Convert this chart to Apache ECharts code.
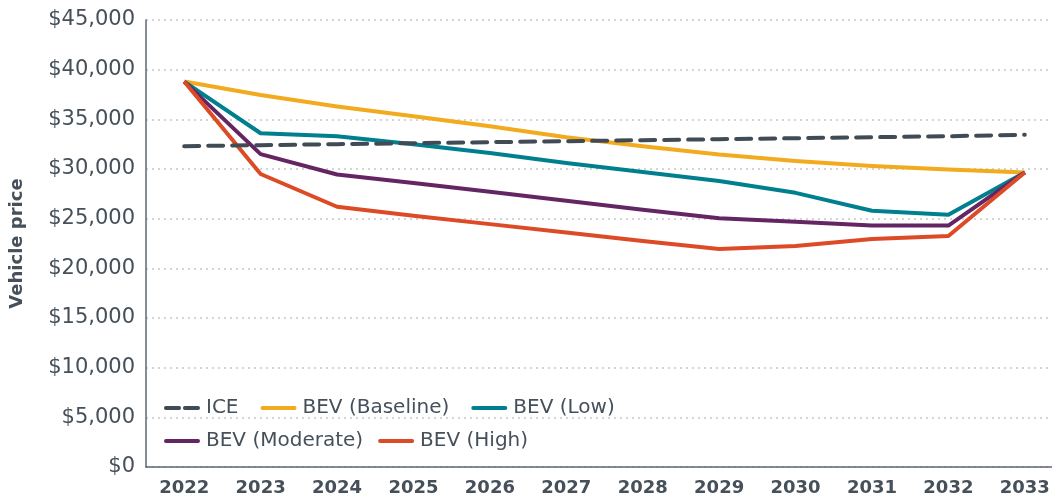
<!DOCTYPE html>
<html>
<head>
<meta charset="utf-8">
<script src="https://cdn.jsdelivr.net/npm/echarts@6/dist/echarts.min.js"></script>
<style>
  html, body { margin: 0; padding: 0; background: #fff; }
  #chart { width: 1052px; height: 498px; }
</style>
</head>
<body>
<div id="chart"></div>
<script>
// years on the x axis
var years = ['2022', '2023', '2024', '2025', '2026', '2027', '2028', '2029', '2030', '2031', '2032', '2033'];
// vehicle price by scenario (USD)
var ice = [32300, 32400, 32500, 32600, 32700, 32800, 32900, 33000, 33100, 33200, 33300, 33450];
var bevBaseline = [38800, 37450, 36300, 35300, 34300, 33200, 32300, 31450, 30800, 30300, 29950, 29650];
var bevLow = [38800, 33600, 33300, 32500, 31600, 30600, 29700, 28800, 27600, 25800, 25400, 29650];
var bevModerate = [38800, 31500, 29450, 28600, 27700, 26800, 25900, 25050, 24700, 24300, 24300, 29650];
var bevHigh = [38800, 29500, 26200, 25300, 24450, 23600, 22750, 21950, 22250, 22950, 23250, 29650];
// y ticks
var yTicks = [0, 5000, 10000, 15000, 20000, 25000, 30000, 35000, 40000, 45000];

var textColor = '#45505a';
var font = 'DejaVu Sans';
// legend marks: two dashes for ICE, a solid bar for the others
var dashIcon = 'path://M1,0 H15 A2,2 0 0 1 15,4 H1 A2,2 0 0 1 1,0 Z M21,0 H35 A2,2 0 0 1 35,4 H21 A2,2 0 0 1 21,0 Z';
var barIcon = 'path://M1,0 H35 A2,2 0 0 1 35,4 H1 A2,2 0 0 1 1,0 Z';

function line(name, data, color, dashed) {
  return {
    name: name,
    type: 'line',
    data: data,
    symbol: 'none',
    lineStyle: {
      color: color,
      width: 4,
      type: dashed ? [15, 9] : 'solid',
      cap: dashed ? 'round' : 'butt',
      join: 'round'
    },
    itemStyle: { color: color },
    z: dashed ? 3 : 2
  };
}

function legendBox(names, top, gap) {
  return {
    data: names.map(function (n) { return { name: n, icon: n === 'ICE' ? dashIcon : barIcon }; }),
    left: 159, top: top,
    itemWidth: 36, itemHeight: 4, itemGap: gap,
    textStyle: { color: textColor, fontSize: 20, fontFamily: font, padding: [0, 0, 0, 1] }
  };
}

var chart = echarts.init(document.getElementById('chart'));
chart.setOption({
  animation: false,
  backgroundColor: '#fff',
  textStyle: { fontFamily: font },
  grid: { left: 146, top: 20, width: 917, bottom: 31, containLabel: false, outerBoundsMode: 'none' },
  legend: [
    legendBox(['ICE', 'BEV (Baseline)', 'BEV (Low)'], 393, 22),
    legendBox(['BEV (Moderate)', 'BEV (High)'], 426, 15)
  ],
  xAxis: {
    type: 'category',
    data: years,
    boundaryGap: true,
    axisLine: { lineStyle: { color: '#5c666f', width: 1.5 } },
    axisTick: { show: false },
    axisLabel: { color: textColor, fontSize: 18, fontWeight: 'bold', margin: 12, fontFamily: font }
  },
  yAxis: {
    type: 'value',
    min: yTicks[0],
    max: yTicks[yTicks.length - 1],
    interval: 5000,
    name: 'Vehicle price',
    nameLocation: 'middle',
    nameGap: 120,
    nameTextStyle: { color: textColor, fontSize: 18, fontWeight: 'bold', fontFamily: font },
    axisLine: { show: true, lineStyle: { color: '#5c666f', width: 1.5 } },
    axisTick: { show: false },
    axisLabel: {
      color: textColor, fontSize: 21, margin: 11, fontFamily: font,
      formatter: function (v) { return '$' + v.toLocaleString('en-US'); }
    },
    splitLine: { lineStyle: { color: '#c6c6c6', width: 1.5, type: [2, 4] } }
  },
  series: [
    line('ICE', ice, '#404b55', true),
    line('BEV (Baseline)', bevBaseline, '#f2ab1f', false),
    line('BEV (Low)', bevLow, '#007f8e', false),
    line('BEV (Moderate)', bevModerate, '#642563', false),
    line('BEV (High)', bevHigh, '#dd4a26', false)
  ]
});
window.addEventListener('resize', function () { chart.resize(); });
</script>
</body>
</html>
